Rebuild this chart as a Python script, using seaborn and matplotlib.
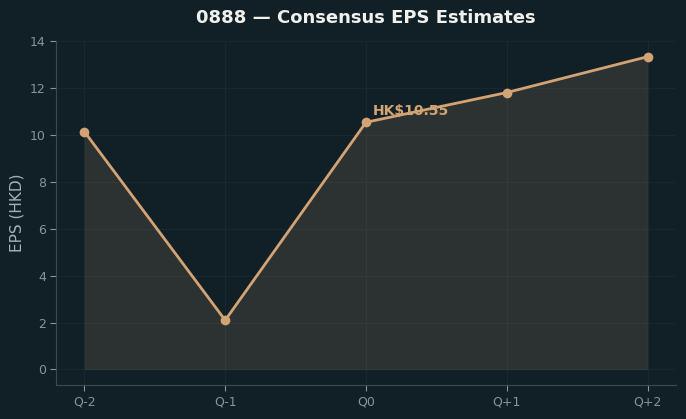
import pandas as pd
import matplotlib.pyplot as plt
import seaborn as sns

quarters = ['Q-2', 'Q-1', 'Q0', 'Q+1', 'Q+2']
eps = [10.15, 2.1, 10.55, 11.82, 13.35]

BG = '#112027'
LINE = '#d4a373'
TXT = '#8a949a'

sns.set_theme(style='dark')
plt.rcParams['font.family'] = ['DejaVu Sans']

df = pd.DataFrame({'quarter': quarters, 'eps': eps})
df['pos'] = range(len(df))

fig, ax = plt.subplots(figsize=(6.86, 4.19), dpi=100)
fig.patch.set_facecolor(BG)
ax.set_facecolor(BG)

ax.fill_between(df['pos'], 0, df['eps'], color=LINE, alpha=0.14, edgecolor='#4a4a40', linewidth=1)
sns.lineplot(data=df, x='pos', y='eps', ax=ax, color=LINE, linewidth=2,
             marker='o', markersize=7, markeredgewidth=0)

# label on the current quarter
i0 = quarters.index('Q0')
ax.annotate(f"HK${eps[i0]:.2f}", (i0, eps[i0]), xytext=(5, 5), textcoords='offset points',
            color=LINE, fontsize=10, fontweight='bold')

ax.set_xticks(df['pos'])
ax.set_xticklabels(quarters)
ax.set_xlabel('')
ax.set_ylabel('EPS (HKD)', color='#a8b0b4', fontsize=11)
ax.set_title('0888 — Consensus EPS Estimates', color='#f0f0ec', fontsize=13,
             fontweight='bold', pad=13)

ax.grid(True, color='#172830', linewidth=0.8)
ax.tick_params(colors=TXT, labelsize=9, length=4, width=0.8, bottom=True, left=True)
for s in ['top', 'right']:
    ax.spines[s].set_visible(False)
for s in ['left', 'bottom']:
    ax.spines[s].set_color('#3d4a4f')
    ax.spines[s].set_linewidth(0.8)

fig.subplots_adjust(left=0.082, right=0.985, top=0.902, bottom=0.081)
plt.savefig('out.png', dpi=100, facecolor=BG)
